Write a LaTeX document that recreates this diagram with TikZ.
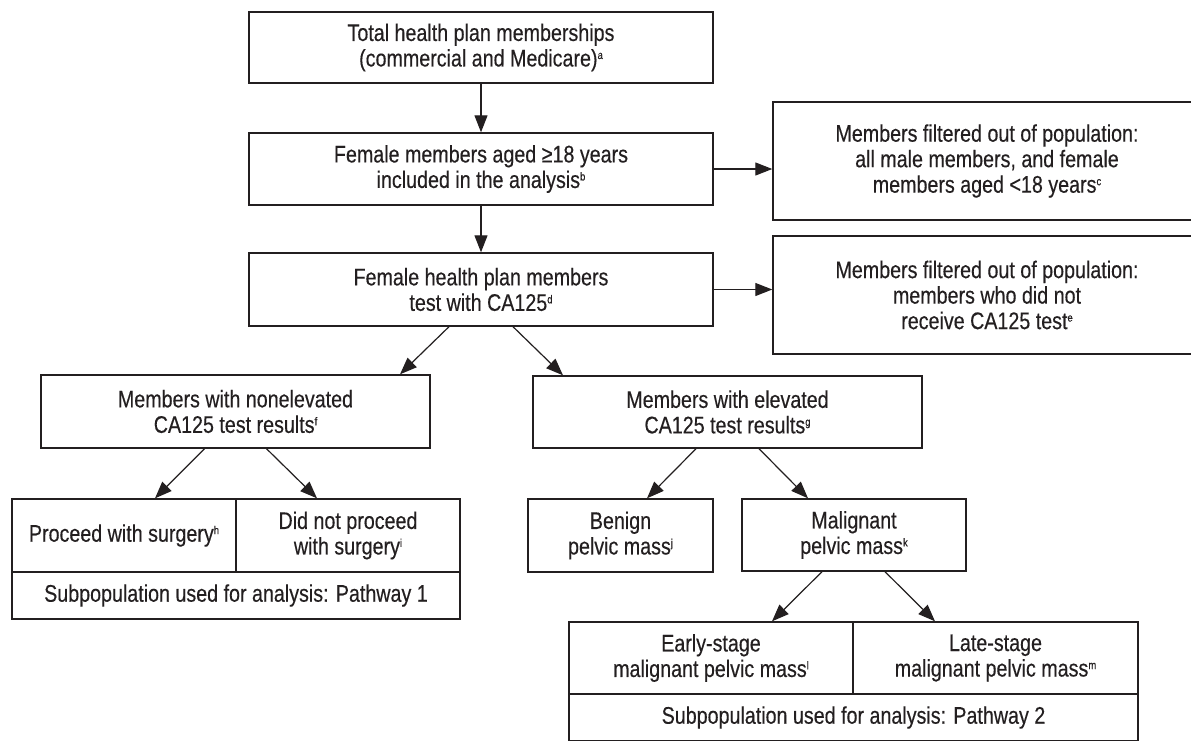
\documentclass[tikz,border=0pt]{standalone}
\usepackage{fontspec}
\setmainfont{Liberation Sans}[FakeStretch=0.82,FakeBold=0.3]
\usetikzlibrary{arrows.meta}
\definecolor{ink}{HTML}{231F20}
\newcommand\spr[1]{\raisebox{7.5pt}{\fontsize{11.5}{11.5}\selectfont #1}}
\begin{document}
\begin{tikzpicture}[x=1pt,y=-1pt,
  box/.style={draw=ink, line width=1.4pt, align=center, inner sep=0pt, text=ink,
    font=\fontsize{24}{25.5}\selectfont},
  arr/.style={draw=ink, line width=1.2pt, -{Triangle[length=17pt,width=13pt]}}]
\useasboundingbox (0,0) rectangle (1191,740);
\fill[white] (0,0) rectangle (1191,740);
\clip (0,0) rectangle (1191,740);
% main column
\node[box, minimum width=464pt, minimum height=71pt] (b1) at (481,47.5)
  {Total health plan memberships\\(commercial and Medicare)\spr{a}};
\node[box, minimum width=464pt, minimum height=72pt] (b2) at (481,169)
  {Female members aged ≥18 years\\included in the analysis\spr{b}};
\node[box, minimum width=464pt, minimum height=73pt] (b3) at (481,289.5)
  {Female health plan members\\test with CA125\spr{d}};
% filtered-out boxes
\node[box, minimum width=428pt, minimum height=118pt] (r1) at (987,161)
  {Members filtered out of population:\\all male members, and female\\members aged <18 years\spr{c}};
\node[box, minimum width=428pt, minimum height=118pt] (r2) at (987,295)
  {Members filtered out of population:\\members who did not\\receive CA125 test\spr{e}};
% second level
\node[box, minimum width=389pt, minimum height=73pt] (b4) at (235.5,411.5)
  {Members with nonelevated\\CA125 test results\spr{f}};
\node[box, minimum width=389pt, minimum height=72pt] (b5) at (727.5,412)
  {Members with elevated\\CA125 test results\spr{g}};
% pathway 1
\node[box, minimum width=224pt, minimum height=73pt] (p1a) at (124,535.5)
  {Proceed with surgery\spr{h}};
\node[box, minimum width=224pt, minimum height=73pt] (p1b) at (348,535.5)
  {Did not proceed\\with surgery\spr{i}};
\node[box, minimum width=448pt, minimum height=47pt] (p1c) at (236,595.5)
  {Subpopulation used for analysis: Pathway 1};
% benign / malignant
\node[box, minimum width=185pt, minimum height=73pt] (b7) at (620.5,535.5)
  {Benign\\pelvic mass\spr{j}};
\node[box, minimum width=224pt, minimum height=72pt] (b8) at (854,535)
  {Malignant\\pelvic mass\spr{k}};
% pathway 2
\node[box, minimum width=284pt, minimum height=72pt] (p2a) at (711,658)
  {Early-stage\\malignant pelvic mass\spr{l}};
\node[box, minimum width=285pt, minimum height=72pt] (p2b) at (995.5,658)
  {Late-stage\\malignant pelvic mass\spr{m}};
\node[box, minimum width=569pt, minimum height=47pt] (p2c) at (853.5,717.5)
  {Subpopulation used for analysis: Pathway 2};
% connectors
\draw[arr] (b1.south) -- (b2.north);
\draw[arr] (b2.south) -- (b3.north);
\draw[arr] (b2.east) -- (b2.east -| r1.west);
\draw[arr] (b3.east) -- (b3.east -| r2.west);
\draw[arr] ([xshift=-32pt]b3.south) -- ([xshift=164.5pt]b4.north);
\draw[arr] ([xshift=32pt]b3.south) -- ([xshift=-164.5pt]b5.north);
\draw[arr] ([xshift=-31pt]b4.south) -- ([xshift=31pt]p1a.north);
\draw[arr] ([xshift=31pt]b4.south) -- ([xshift=-31pt]p1b.north);
\draw[arr] ([xshift=-31.5pt]b5.south) -- ([xshift=26.5pt]b7.north);
\draw[arr] ([xshift=31.5pt]b5.south) -- ([xshift=-46pt]b8.north);
\draw[arr] ([xshift=-32pt]b8.south) -- ([xshift=61pt]p2a.north);
\draw[arr] ([xshift=31pt]b8.south) -- ([xshift=-60.5pt]p2b.north);
\end{tikzpicture}
\end{document}
